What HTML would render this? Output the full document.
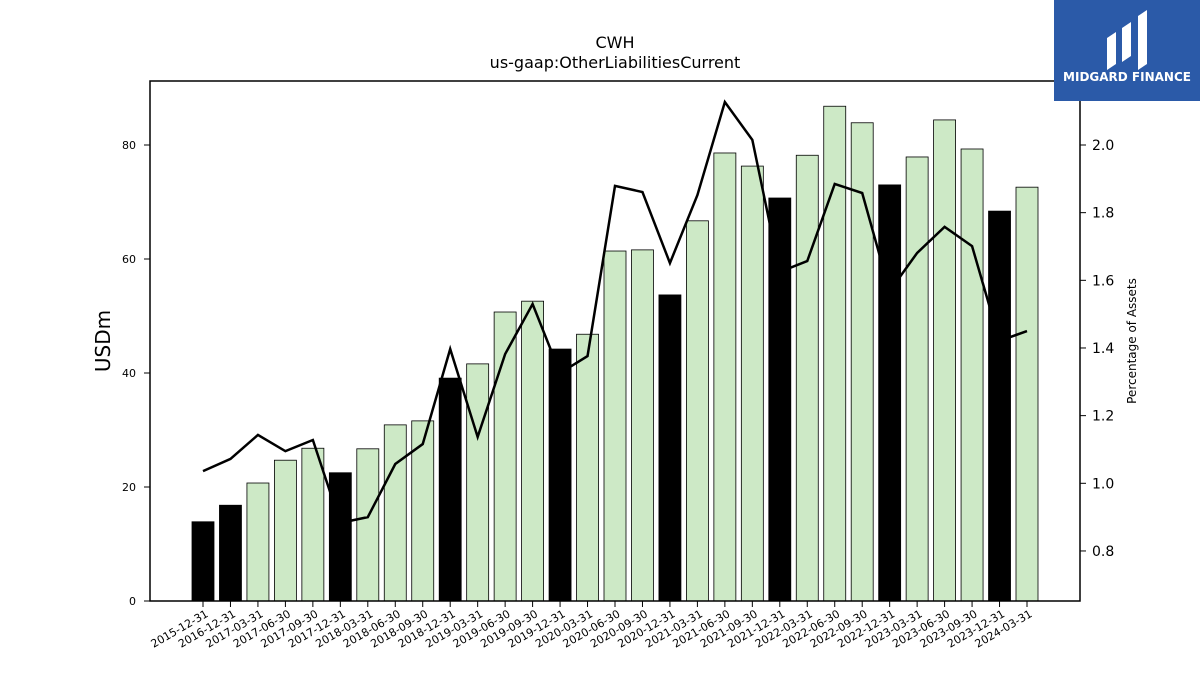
<!DOCTYPE html>
<html><head><meta charset="utf-8"><style>
body{margin:0;background:#fff;font-family:"Liberation Sans","DejaVu Sans",sans-serif}
</style></head><body>
<svg id="chart" width="1200" height="675" xmlns="http://www.w3.org/2000/svg" font-family="DejaVu Sans, Liberation Sans, sans-serif">
<text x="615" y="48" text-anchor="middle" font-size="16">CWH</text>
<text x="615" y="68" text-anchor="middle" font-size="16">us-gaap:OtherLiabilitiesCurrent</text>
<g id="plot"></g>
<rect x="150" y="81" width="930" height="520" fill="none" stroke="#000" stroke-width="1.5"/>
<text transform="translate(110,341) rotate(-90)" text-anchor="middle" font-size="20">USDm</text>
<text transform="translate(1136,341) rotate(-90)" text-anchor="middle" font-size="12">Percentage of Assets</text>
<g>
<rect x="1054" y="0" width="146" height="101" fill="#2b5aa8"/>
<path d="M1107 70 L1107 38 L1116 32 L1116 64 Z M1122 62 L1122 28 L1131 22 L1131 56 Z M1138 70 L1138 16 L1147 10 L1147 64 Z" fill="#fff"/>
<text x="1127" y="81" text-anchor="middle" font-size="12" font-weight="bold" fill="#fff">MIDGARD FINANCE</text>
</g>
</svg>
<script>
const categories=["2015-12-31","2016-12-31","2017-03-31","2017-06-30","2017-09-30","2017-12-31","2018-03-31","2018-06-30","2018-09-30","2018-12-31","2019-03-31","2019-06-30","2019-09-30","2019-12-31","2020-03-31","2020-06-30","2020-09-30","2020-12-31","2021-03-31","2021-06-30","2021-09-30","2021-12-31","2022-03-31","2022-06-30","2022-09-30","2022-12-31","2023-03-31","2023-06-30","2023-09-30","2023-12-31","2024-03-31"];
const usdValues=[13.9,16.8,20.7,24.7,26.8,22.5,26.7,30.9,31.6,39.1,41.6,50.7,52.6,44.2,46.8,61.4,61.6,53.7,66.7,78.6,76.3,70.7,78.2,86.8,83.9,73.0,77.9,84.4,79.3,68.4,72.6];
const pctValues=[1.036,1.072,1.143,1.095,1.128,0.883,0.900,1.057,1.116,1.397,1.137,1.382,1.530,1.326,1.376,1.879,1.861,1.651,1.852,2.127,2.015,1.625,1.657,1.885,1.858,1.568,1.681,1.758,1.701,1.421,1.450];
const yTicks=[0,20,40,60,80];
const y2Ticks=[0.8,1.0,1.2,1.4,1.6,1.8,2.0];
const NS="http://www.w3.org/2000/svg";
const g=document.getElementById("plot");
const x=i=>203+i*(824/30);
const y=v=>601-v*5.7;
const y2=v=>145+(2.0-v)*338.3;
function mk(t,a){const e=document.createElementNS(NS,t);for(const k in a)e.setAttribute(k,a[k]);g.appendChild(e);return e;}
yTicks.forEach(v=>{
 const l=mk("line",{x1:144,x2:150,y1:y(v),y2:y(v),stroke:"#000"});
 
 
 const t=mk("text",{x:136,y:y(v)+4,"text-anchor":"end","font-size":11});t.textContent=v;
 
 
});
y2Ticks.forEach(v=>{
 const l=mk("line",{x1:1080,x2:1086,y1:y2(v),y2:y2(v),stroke:"#000"});
 
 
 const t=mk("text",{x:1092,y:y2(v)+5,"font-size":14});t.textContent=v.toFixed(1);
 
 
});
const isYE=c=>c.endsWith("12-31");
categories.forEach((c,i)=>{
 if(isYE(c))return;
 const r=mk("rect",{x:x(i)-11,y:y(usdValues[i]),width:22,height:601-y(usdValues[i]),fill:"#cde9c6",stroke:"#000","stroke-width":0.8});
 
 
});
const p=mk("polyline",{points:pctValues.map((v,i)=>x(i)+","+y2(v)).join(" "),fill:"none",stroke:"#000","stroke-width":2.5});


categories.forEach((c,i)=>{
 if(isYE(c)){
 const r=mk("rect",{x:x(i)-11,y:y(usdValues[i]),width:22,height:601-y(usdValues[i]),fill:"#000",stroke:"#000","stroke-width":0.8});
 
 
 }
 const l=mk("line",{x1:x(i),x2:x(i),y1:601,y2:607,stroke:"#000"});
 
 
 const t=mk("text",{x:x(i)+6,y:616,"text-anchor":"end","font-size":11,transform:`rotate(-30 ${x(i)+6} 616)`});t.textContent=c;
 
 
});
</script>
</body></html>
